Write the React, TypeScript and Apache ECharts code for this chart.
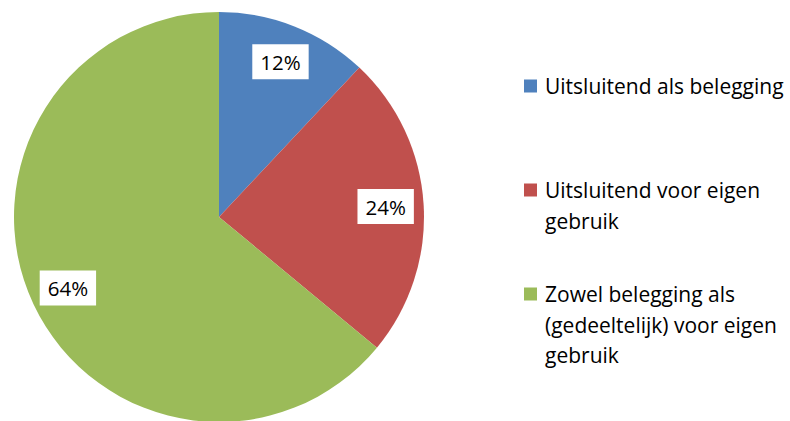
import React, { useEffect, useRef } from "react";
import * as echarts from "echarts";

const categories = [
  "Uitsluitend als belegging",
  "Uitsluitend voor eigen gebruik",
  "Zowel belegging als (gedeeltelijk) voor eigen gebruik",
];
const values = [12, 24, 64];
const colors = ["#4F81BD", "#C0504D", "#9BBB59"];

const FONT = "'Open Sans'";

export default function App() {
  const ref = useRef<HTMLDivElement>(null);
  useEffect(() => {
    if (!ref.current) return;
    const chart = echarts.init(ref.current, undefined, { renderer: "svg" });
    const cx = 219;
    const cy = 217;
    const R = 205;
    const legendX = 524;
    const legendTops = [86, 190, 294];
    const lineH = 30.5;
    const graphic: any[] = [];
    categories.forEach((name, i) => {
      graphic.push({
        type: "rect",
        left: legendX,
        top: legendTops[i] - 6.5,
        shape: { width: 13, height: 13 },
        style: { fill: colors[i] },
      });
      graphic.push({
        type: "text",
        left: legendX + 21,
        top: legendTops[i] - lineH / 2,
        style: {
          text: name,
          font: `21px ${FONT}`,
          fill: "#000",
          width: 262,
          overflow: "break",
          lineHeight: lineH,
        },
      });
    });
    chart.setOption({
      animation: false,
      color: colors,
      graphic,
      series: [
        {
          type: "pie",
          center: [cx, cy],
          radius: R,
          startAngle: 90,
          clockwise: true,
          silent: true,
          label: { show: false },
          labelLine: { show: false },
          data: categories.map((n, i) => ({ name: n, value: values[i] })),
        },
        {
          type: "pie",
          center: [cx, cy],
          radius: [R * 0.6, R],
          startAngle: 90,
          clockwise: true,
          silent: true,
          itemStyle: { color: "rgba(0,0,0,0)" },
          label: {
            show: true,
            position: "inside",
            formatter: (p: any) => `${p.value}%`,
            color: "#000",
            fontFamily: FONT,
            fontSize: 20.5,
            backgroundColor: "#fff",
            padding: [8, 8, 6, 8],
          },
          labelLine: { show: false },
          data: categories.map((n, i) => ({ name: n, value: values[i] })),
        },
      ],
    });
    return () => chart.dispose();
  }, []);
  return (
    <div
      ref={ref}
      style={{ position: "fixed", left: 0, top: 0, width: 790, height: 421, background: "#fff" }}
    />
  );
}
